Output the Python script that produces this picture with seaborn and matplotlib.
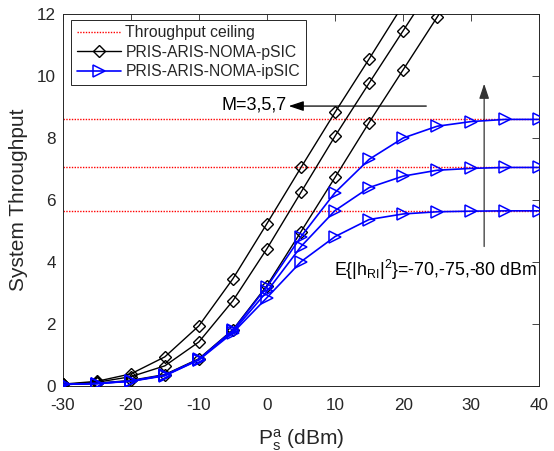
import matplotlib
matplotlib.use("Agg")
import matplotlib.pyplot as plt
import numpy as np
import pandas as pd
import seaborn as sns

# ---------------- data ----------------
x_dbm = [-30, -25, -20, -15, -10, -5, 0, 5, 10, 15, 20, 25, 30, 35, 40]

psic_m7 = [0.06, 0.15, 0.39, 0.94, 1.94, 3.46, 5.24, 7.05, 8.83, 10.55, 12.3]
psic_m5 = [0.05, 0.12, 0.30, 0.65, 1.42, 2.75, 4.43, 6.25, 8.06, 9.77, 11.46, 13.15]
psic_m3 = [0.05, 0.09, 0.18, 0.37, 0.88, 1.82, 3.24, 4.98, 6.73, 8.50, 10.20, 11.90, 13.6]

ipsic_80 = [0.05, 0.08, 0.16, 0.35, 0.86, 1.80, 3.20, 4.82, 6.24, 7.31, 8.00, 8.38, 8.53, 8.60, 8.60]
ipsic_75 = [0.05, 0.08, 0.16, 0.34, 0.85, 1.76, 3.05, 4.50, 5.66, 6.40, 6.77, 6.96, 7.02, 7.05, 7.05]
ipsic_70 = [0.05, 0.08, 0.15, 0.33, 0.84, 1.72, 2.85, 4.01, 4.82, 5.37, 5.55, 5.62, 5.64, 5.65, 5.65]

ceilings = [5.65, 7.05, 8.60]

legend_labels = ["Throughput ceiling", "PRIS-ARIS-NOMA-pSIC", "PRIS-ARIS-NOMA-ipSIC"]
x_ticks = [-30, -20, -10, 0, 10, 20, 30, 40]
y_ticks = [0, 2, 4, 6, 8, 10, 12]

# ---------------- style ----------------
sns.set_style("white")
plt.rcParams["font.family"] = ["Liberation Sans", "DejaVu Sans"]
plt.rcParams["axes.unicode_minus"] = False
plt.rcParams["mathtext.fontset"] = "custom"
plt.rcParams["mathtext.rm"] = "Liberation Sans"
plt.rcParams["mathtext.it"] = "Liberation Sans"
plt.rcParams["mathtext.bf"] = "Liberation Sans:bold"

fig = plt.figure(figsize=(5.54, 4.51), dpi=100)
ax = fig.add_axes([62.7 / 554, 1 - 386 / 451, (539.3 - 62.7) / 554, (386 - 14) / 451])

# ceilings
for c in ceilings:
    ceil_df = pd.DataFrame({"x": [x_dbm[0], x_dbm[-1]], "y": [c, c]})
    sns.lineplot(data=ceil_df, x="x", y="y", ax=ax, color="red", linestyle=(0, (1, 1)),
                 linewidth=1.0, legend=False, zorder=1)

# pSIC (black diamonds)
for ys in (psic_m7, psic_m5, psic_m3):
    df = pd.DataFrame({"x": x_dbm[:len(ys)], "y": ys})
    sns.lineplot(data=df, x="x", y="y", ax=ax, color="black", linewidth=1.0,
                 marker="D", markersize=6.5, markerfacecolor="none",
                 markeredgecolor="black", markeredgewidth=1.0, legend=False, zorder=3)

# ipSIC (blue triangles)
for ys in (ipsic_80, ipsic_75, ipsic_70):
    df = pd.DataFrame({"x": x_dbm[:len(ys)], "y": ys})
    sns.lineplot(data=df, x="x", y="y", ax=ax, color="#0000ff", linewidth=1.2,
                 marker=">", markersize=8.5, markerfacecolor="none",
                 markeredgecolor="#0000ff", markeredgewidth=1.1, legend=False, zorder=4)

ax.set_xlim(-30, 40)
ax.set_ylim(0, 12)
ax.set_xticks(x_ticks)
ax.set_yticks(y_ticks)
ax.tick_params(direction="in", top=True, right=True, length=5, width=0.6,
               labelsize=12.3, colors="#262626")
ax.tick_params(axis="x", pad=9)
ax.tick_params(axis="y", pad=5)
for s in ax.spines.values():
    s.set_color("#262626")
    s.set_linewidth(0.7)

ax.set_xlabel(r"$\mathregular{P_s^a}$ (dBm)", fontsize=15, color="#262626", labelpad=10)
ax.set_ylabel("System Throughput", fontsize=15, color="#262626", labelpad=6)

# annotations
ax.annotate("", xy=(3.2, 9.03), xytext=(23.4, 9.03),
            arrowprops=dict(arrowstyle="-|>,head_length=0.9,head_width=0.3", color="black",
                            lw=0.9, shrinkA=0, shrinkB=0))
ax.text(2.9, 9.05, "M=3,5,7", fontsize=13, ha="right", va="center", color="black")

ax.annotate("", xy=(31.9, 9.75), xytext=(31.9, 4.5),
            arrowprops=dict(arrowstyle="-|>,head_length=0.9,head_width=0.3", color="#333333",
                            lw=0.9, shrinkA=0, shrinkB=0))
ax.text(9.9, 3.75, r"E{|h$_{\mathregular{RI}}$|$^{\mathregular{2}}$}=-70,-75,-80 dBm",
        fontsize=12.8, ha="left", va="center", color="black")

# legend
lines = ax.get_lines()
handles = [lines[0], lines[len(ceilings)], lines[len(ceilings) + 3]]
leg = ax.legend(handles, legend_labels, loc="upper left", bbox_to_anchor=(0.018, 0.985),
                fontsize=11.3, frameon=True, fancybox=False, framealpha=1,
                handlelength=2.8, handletextpad=0.3, borderpad=0.35, labelspacing=0.3,
                borderaxespad=0)
leg.get_frame().set_edgecolor("#262626")
leg.get_frame().set_linewidth(0.7)

fig.savefig("out.png", dpi=100)
